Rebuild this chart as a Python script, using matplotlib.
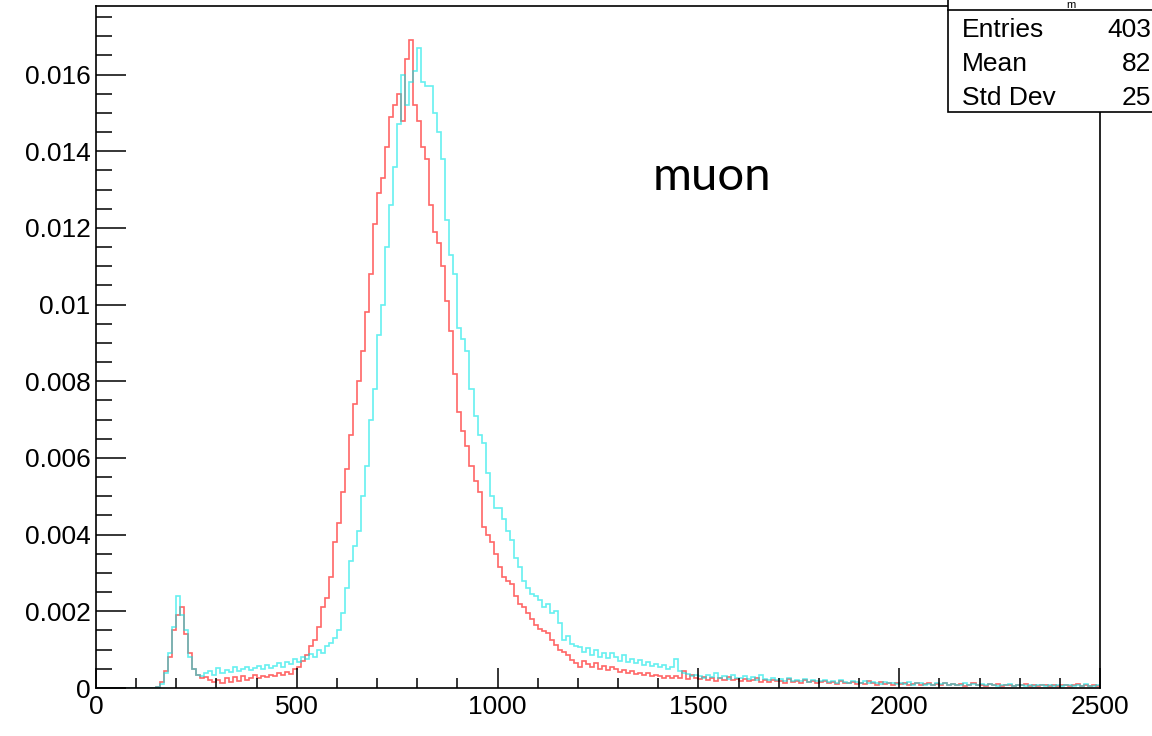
import numpy as np
import matplotlib
matplotlib.use("Agg")
import matplotlib.pyplot as plt
from matplotlib.patches import Rectangle
from matplotlib.ticker import MultipleLocator

# ---------------- data (bin contents in units of 1e-4, bins of width 10) ----------------
bin_width = 10
x_range = (0, 2500)

red_vals = [
    0, 0, 0, 0, 0, 0, 0, 0, 0, 0,
    0, 0, 0, 0, 0, 0.3, 1.5, 4.5, 8, 15,
    19, 21, 14, 9, 5, 3.5, 2.5, 2.8, 2.0, 1.5,
    2.2, 1.3, 2.5, 1.6, 2.8, 1.8, 3.0, 2.2, 2.6, 3.4,
    2.5, 3.2, 2.8, 3.5, 3.0, 3.8, 3.3, 4.2, 3.6, 5.0,
    5.5, 7.0, 8.5, 11, 12.5, 16, 21, 23.5, 29, 38,
    43, 51, 57, 66, 74, 80, 88, 98, 108, 121,
    129, 133, 141, 149, 152, 155, 148, 164, 169, 152,
    148, 141, 138, 126, 119, 116, 110, 101, 93, 82,
    72, 67, 63, 58, 54, 51, 42, 40, 38, 35,
    31.6, 29, 28, 27, 24, 22, 21, 19.6, 18, 16.5,
    15.5, 14.8, 14.3, 12.5, 11.2, 10, 9.5, 8.5, 7.2, 6.5,
    5.5, 7.0, 6.2, 5.5, 6.5, 5.0, 5.8, 4.8, 5.5, 5.0,
    4.2, 4.8, 3.9, 4.5, 3.6, 4.0, 3.4, 3.9, 3.2, 3.5,
    3.0, 2.6, 3.2, 2.5, 3.0, 2.6, 4.5, 2.3, 3.5, 2.6,
    2.4, 2.9, 2.2, 2.6, 1.9, 2.5, 2.1, 2.8, 2.0, 2.3,
    1.8, 2.4, 1.7, 2.1, 2.6, 1.6, 2.0, 1.5, 2.2, 1.7,
    1.9, 1.4, 2.3, 1.6, 1.8, 1.3, 2.0, 1.5, 1.7, 1.2,
    1.6, 1.9, 1.3, 1.5, 1.1, 1.8, 1.4, 1.2, 1.6, 1.0,
    1.4, 1.1, 1.7, 1.2, 0.9, 1.5, 1.1, 1.3, 0.8, 1.2,
    1.0, 1.4, 0.8, 1.1, 1.3, 0.7, 1.0, 1.2, 0.8, 1.1,
    0.9, 1.3, 0.7, 1.0, 0.8, 1.1, 0.6, 0.9, 1.2, 0.7,
    0.9, 0.6, 1.0, 0.8, 1.1, 0.6, 0.8, 0.9, 0.5, 0.8,
    0.7, 1.0, 0.6, 0.8, 0.5, 0.9, 0.7, 0.6, 0.8, 0.5,
    0.7, 0.9, 0.5, 0.7, 1.0, 0.6, 0.8, 0.5, 0.7, 0.6,
]

cyan_vals = [
    0, 0, 0, 0, 0, 0, 0, 0, 0, 0,
    0, 0, 0, 0, 0, 0.2, 1.0, 4.0, 9, 16,
    24, 19, 15, 8, 5, 3.5, 3.0, 3.8, 4.5, 3.5,
    5.2, 4.0, 4.8, 4.2, 5.5, 4.5, 5.0, 5.6, 4.6, 5.3,
    5.8, 5.0, 6.0, 5.2, 5.8, 6.4, 5.5, 6.8, 6.2, 7.5,
    6.8, 8.0, 7.5, 8.8, 8.2, 9.9, 9.0, 11, 11.7, 13,
    15, 19.6, 26, 33, 37, 41, 50, 58, 70, 78,
    92, 100, 115, 126, 136, 147, 160, 152, 158, 161,
    167, 158, 157, 157, 150, 145, 138, 122, 113, 108,
    94, 91, 88, 78, 71, 66, 64, 56, 50, 47,
    47, 44, 41, 38.6, 34, 31.6, 28, 26, 24.5, 24,
    23, 21, 22, 19.6, 20, 17, 12.5, 13.5, 11.5, 11,
    10.7, 9.5, 10.5, 8.5, 9.8, 8.2, 9.0, 7.8, 9.1, 8.0,
    7.0, 8.5, 6.8, 7.5, 6.5, 7.3, 6.0, 6.8, 5.8, 6.2,
    5.5, 6.0, 5.0, 5.5, 7.5, 4.5, 4.0, 3.6, 3.2, 3.5,
    3.2, 2.7, 3.5, 2.9, 3.8, 2.6, 3.1, 2.4, 3.3, 2.7,
    2.5, 3.0, 2.3, 2.8, 2.2, 3.4, 2.4, 2.0, 2.6, 2.1,
    2.3, 1.9, 2.6, 1.8, 2.2, 1.7, 2.4, 1.6, 2.0, 1.8,
    1.7, 2.1, 1.5, 1.9, 1.4, 2.0, 1.6, 1.3, 1.8, 1.5,
    1.4, 1.8, 1.2, 1.6, 1.3, 1.1, 1.5, 1.2, 1.4, 1.0,
    1.3, 1.0, 1.5, 0.9, 1.2, 1.4, 0.9, 1.1, 0.8, 1.2,
    1.0, 1.3, 0.8, 1.1, 0.9, 0.7, 1.2, 0.8, 1.0, 0.7,
    1.0, 0.7, 1.1, 0.8, 0.6, 0.9, 0.7, 1.0, 0.6, 0.8,
    0.9, 0.6, 0.8, 0.5, 0.9, 0.7, 0.6, 0.8, 0.5, 0.7,
    0.6, 0.9, 0.7, 0.5, 0.8, 0.6, 1.0, 0.6, 0.5, 0.7,
]
value_scale = 1e-4

xticks = [0, 500, 1000, 1500, 2000, 2500]
xtick_labels = ["0", "500", "1000", "1500", "2000", "2500"]
yticks = [0, 0.002, 0.004, 0.006, 0.008, 0.010, 0.012, 0.014, 0.016]
ytick_labels = ["0", "0.002", "0.004", "0.006", "0.008", "0.01", "0.012", "0.014", "0.016"]
y_max = 0.01779

stat_title = "m"
stat_names = ["Entries", "Mean", "Std Dev"]
stat_values = ["403", "82", "25"]
annotation = "muon"
annotation_pos = (1534, 0.01333)

# ---------------- figure ----------------
W, H = 1152, 736
fig = plt.figure(figsize=(W / 100, H / 100), dpi=100)
fx = lambda px: px / W
fy = lambda py: 1 - py / H

ax_l, ax_r, ax_t, ax_b = 96, 1100, 6, 688
ax = fig.add_axes([fx(ax_l), fy(ax_b), (ax_r - ax_l) / W, (ax_b - ax_t) / H])

edges = np.arange(x_range[0], x_range[1] + bin_width, bin_width)
ax.stairs(np.array(red_vals) * value_scale, edges, color=(1, 0, 0, 0.6), lw=1.2)
ax.stairs(np.array(cyan_vals) * value_scale, edges, color=(0, 0.9, 0.9, 0.6), lw=1.2)

ax.set_xlim(*x_range)
ax.set_ylim(0, y_max)

tick_font = dict(family=["Liberation Sans", "DejaVu Sans"], size=19)
ax.set_xticks(xticks)
ax.set_xticklabels(xtick_labels, **tick_font)
ax.set_yticks(yticks)
ax.set_yticklabels(ytick_labels, **tick_font)
ax.xaxis.set_minor_locator(MultipleLocator(100))
ax.yaxis.set_minor_locator(MultipleLocator(0.0005))

ax.tick_params(axis="x", which="major", direction="in", length=14.4, width=1.1, pad=5)
ax.tick_params(axis="x", which="minor", direction="in", length=7.2, width=1.1)
ax.tick_params(axis="y", which="major", direction="in", length=21.6, width=1.1, pad=4)
ax.tick_params(axis="y", which="minor", direction="in", length=11.5, width=1.1)
ax.tick_params(top=False, right=False, which="both")
for s in ax.spines.values():
    s.set_linewidth(1.2)

# label
ax.text(annotation_pos[0], annotation_pos[1], annotation, ha="center", va="center",
        fontsize=34, family=["Lato", "DejaVu Sans"], color="black")

# ---------------- stats box ----------------
box_l, box_b = 948, 112
fig.patches.append(Rectangle((fx(box_l), fy(box_b)), 1.0, 1.0, transform=fig.transFigure,
                             facecolor="white", edgecolor="black", lw=1.2, zorder=5))
fig.lines.append(plt.Line2D([fx(box_l), 1.0], [fy(10), fy(10)], transform=fig.transFigure,
                            color="black", lw=1.2, zorder=6))
stat_font = dict(family=["Liberation Sans", "DejaVu Sans"], size=19)
fig.text(fx(1071), fy(8), stat_title, ha="center", va="baseline", zorder=7,
         family=["Liberation Sans", "DejaVu Sans"], size=8)
for i, (n, v) in enumerate(zip(stat_names, stat_values)):
    yy = 30 + i * 34
    fig.text(fx(962), fy(yy), n, ha="left", va="center", zorder=7, **stat_font)
    fig.text(fx(1151), fy(yy), v, ha="right", va="center", zorder=7, **stat_font)

fig.savefig("out.png", dpi=100)
